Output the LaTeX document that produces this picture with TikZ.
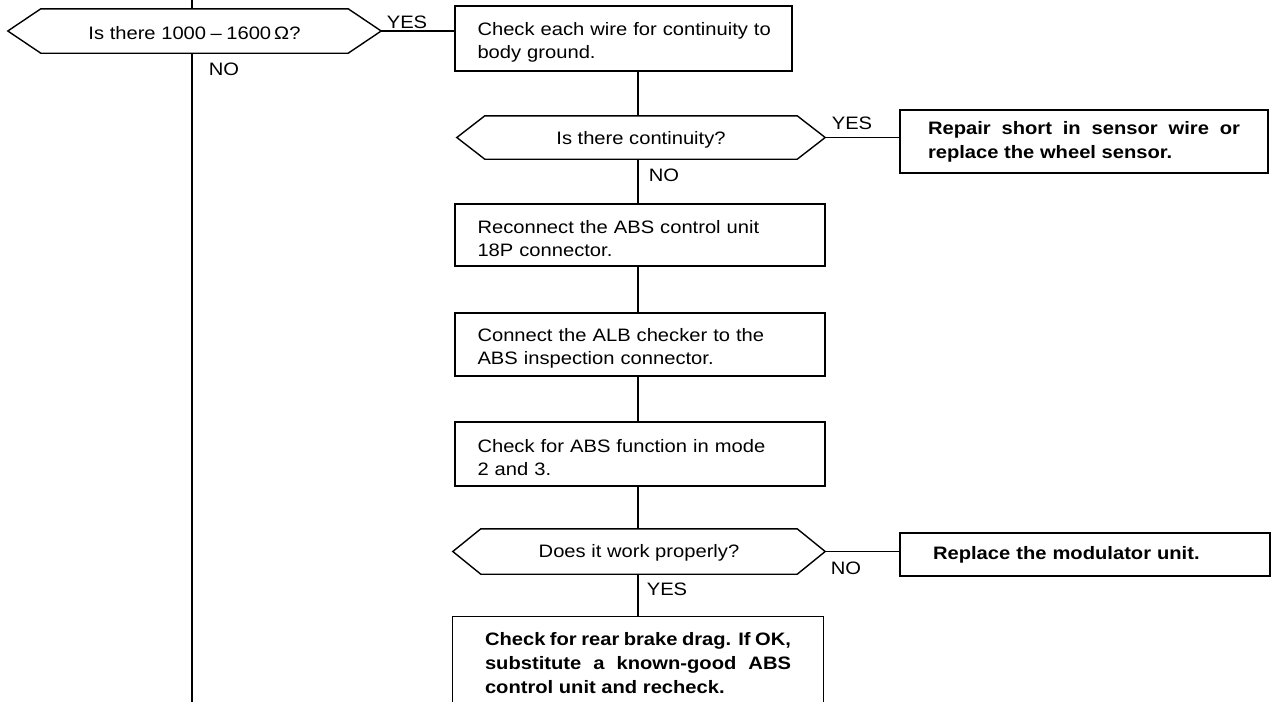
\documentclass[tikz,border=0pt]{standalone}
\usepackage{fontspec}
\setmainfont{Liberation Sans}[FakeStretch=1.12]
\begin{document}
\begin{tikzpicture}[x=1pt,y=-1pt,
  every node/.style={font=\fontsize{18}{23}\selectfont, inner sep=0pt},
  ln/.style={line width=1.4pt, black},
  frame/.style={draw, line width=1.4pt, minimum width=370pt},
  txt/.style={text width=324pt, align=left, anchor=west},
  boldbox/.style={draw, line width=1.4pt, minimum width=370pt, align=justify, font=\fontsize{18}{24}\selectfont\bfseries},
  dec/.style={minimum height=44pt},
  lbl/.style={font=\fontsize{18}{23}\selectfont}
]
\useasboundingbox (0,0) rectangle (1276,702);
\coordinate (spine) at (638,0);
\coordinate (leftTop) at (192,0);
\coordinate (leftBot) at (192,702);

% decision 1
\node[dec, minimum width=373pt] (d1) at (194.5,31) {};
\node (q1) at ([yshift=-2pt]d1.center) {Is there 1000\hspace{0.25em}–\hspace{0.25em}1600\,Ω?};
\draw[ln] (d1.west) -- ([xshift=33pt]d1.north west) -- ([xshift=-33pt]d1.north east) -- (d1.east) -- ([xshift=-33pt]d1.south east) -- ([xshift=33pt]d1.south west) -- cycle;
\draw[ln] (leftTop) -- (leftTop |- d1.north);
\draw[ln] (leftTop |- d1.south) -- (leftBot);
\node[lbl] (y1) at (407,22) {YES};
\node[lbl] (n1) at (224,69) {NO};

% box 1
\node[frame, minimum width=337pt, minimum height=65pt] (b1) at (623.5,38.5) {};
\node[txt] (t1) at ([xshift=23pt,yshift=-4pt]b1.west) {Check each wire for continuity to\\body ground.};
\draw[ln] (d1.east) -- (d1.east -| b1.west);

% decision 2
\node[dec, minimum width=368pt, minimum height=43pt] (d2) at (641,137.5) {};
\node (q2) at ([yshift=-2pt]d2.center) {Is there continuity?};
\draw[ln] (d2.west) -- ([xshift=28pt]d2.north west) -- ([xshift=-28pt]d2.north east) -- (d2.east) -- ([xshift=-28pt]d2.south east) -- ([xshift=28pt]d2.south west) -- cycle;
\draw[ln] (b1.south -| spine) -- (d2.north -| spine);
\node[lbl] (y2) at (852,123) {YES};
\node[lbl] (n2) at (664,175) {NO};

% box 2
\node[boldbox, minimum width=368pt, text width=312pt, minimum height=63pt] (b2) at (1084,141.5) {Repair short in sensor wire or\linebreak replace the wheel sensor.};
\draw[ln] (d2.east) -- (d2.east -| b2.west);

% box 3
\node[frame, minimum height=62pt] (b3) at (640,235) {};
\node[txt] (t3) at ([xshift=23pt,yshift=-4pt]b3.west) {Reconnect the ABS control unit\\18P connector.};
\draw[ln] (d2.south -| spine) -- (b3.north -| spine);

% box 4
\node[frame, minimum height=63pt] (b4) at (640,344.5) {};
\node[txt] (t4) at ([xshift=23pt,yshift=-4pt]b4.west) {Connect the ALB checker to the\\ABS inspection connector.};
\draw[ln] (b3.south -| spine) -- (b4.north -| spine);

% box 5
\node[frame, minimum height=64pt] (b5) at (640,454) {};
\node[txt] (t5) at ([xshift=23pt,yshift=-4pt]b5.west) {Check for ABS function in mode\\2 and 3.};
\draw[ln] (b4.south -| spine) -- (b5.north -| spine);

% decision 3
\node[dec, minimum width=372pt, minimum height=45pt] (d3) at (639,551.5) {};
\node (q3) at ([yshift=-1pt]d3.center) {Does it work properly?};
\draw[ln] (d3.west) -- ([xshift=28pt]d3.north west) -- ([xshift=-28pt]d3.north east) -- (d3.east) -- ([xshift=-28pt]d3.south east) -- ([xshift=28pt]d3.south west) -- cycle;
\draw[ln] (b5.south -| spine) -- (d3.north -| spine);
\node[lbl] (n3) at (846,568) {NO};
\node[lbl] (y3) at (667,589) {YES};

% box 7
\node[boldbox, text width=304pt, align=left, minimum height=43pt] (b7) at (1085,554.5) {Replace the modulator unit.};
\draw[ln] (d3.east) -- (d3.east -| b7.west);

% box 6 (runs off the bottom edge)
\node[boldbox, draw=none, text width=306pt, minimum height=92pt] (b6) at (638,663) {Check for rear brake drag. If OK,\linebreak substitute a known-good ABS\linebreak control unit and recheck.};
\draw[ln] (b6.west |- leftBot) -- (b6.north west) -- (b6.north east) -- (b6.east |- leftBot);
\draw[ln] (d3.south -| spine) -- (b6.north -| spine);
\end{tikzpicture}
\end{document}
